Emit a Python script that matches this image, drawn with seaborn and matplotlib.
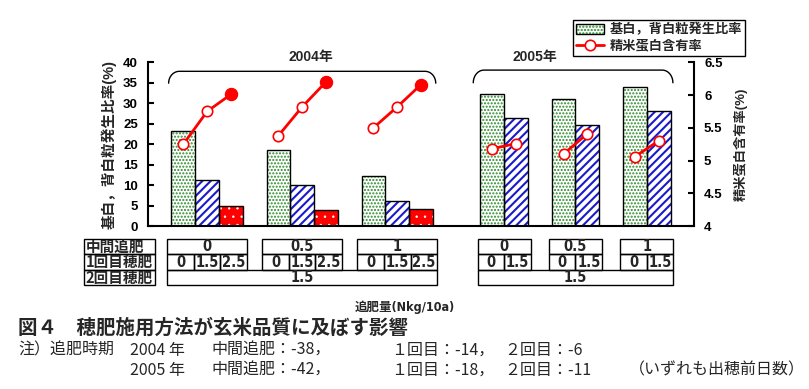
import numpy as np
import pandas as pd
import matplotlib
matplotlib.use("Agg")
import matplotlib.pyplot as plt
import matplotlib.transforms as mtransforms
from matplotlib.patches import Rectangle, Patch
from matplotlib.lines import Line2D
import seaborn as sns

# ---------------- data ----------------
years = ["2004年", "2005年"]
mid_levels = ["0", "0.5", "1"]
first_levels_2004 = ["0", "1.5", "2.5"]
first_levels_2005 = ["0", "1.5"]
second_level = "1.5"
chalky_2004 = [[23.2, 11.3, 5.0], [18.5, 9.9, 4.0], [12.3, 6.0, 4.2]]
chalky_2005 = [[32.2, 26.5], [31.0, 24.6], [33.9, 28.0]]
protein_2004 = [[5.25, 5.75, 6.01], [5.38, 5.82, 6.20], [5.50, 5.82, 6.16]]
protein_2005 = [[5.18, 5.26], [5.10, 5.41], [5.06, 5.30]]
row_labels = ["中間追肥", "1回目穂肥", "2回目穂肥"]
legend_labels = ["基白，背白粒発生比率", "精米蛋白含有率"]
left_ticks = [0, 5, 10, 15, 20, 25, 30, 35, 40]
right_ticks = [4, 4.5, 5, 5.5, 6, 6.5]
right_ticklabels = ["4", "4.5", "5", "5.5", "6", "6.5"]
caption = "図４　穂肥施用方法が玄米品質に及ぼす影響"
note_head = "注）追肥時期"
note_2004 = ["2004 年", "中間追肥：-38，", "１回目：-14，", "２回目：-6"]
note_2005 = ["2005 年", "中間追肥：-42，", "１回目：-18，", "２回目：-11", "（いずれも出穂前日数）"]

# ---------------- theme ----------------
sns.set_theme(style="white")
plt.rcParams["font.family"] = ["Liberation Sans", "Noto Sans CJK JP"]
plt.rcParams["hatch.linewidth"] = 1.1
plt.rcParams["axes.unicode_minus"] = False

# ---------------- build table ----------------
year_first = [first_levels_2004, first_levels_2005]
year_chalky = [chalky_2004, chalky_2005]
year_protein = [protein_2004, protein_2005]
year_start = [1, 14]
rows = []
group_spans = []
for yi, year in enumerate(years):
    firsts = year_first[yi]
    n = len(firsts)
    for g, mid in enumerate(mid_levels):
        gs = year_start[yi] + g * (n + 1)
        group_spans.append((yi, gs, n, mid))
        for k, f in enumerate(firsts):
            rows.append(dict(year=year, mid=mid, first=f, grp=f"{year}-{mid}",
                             pos=gs + k + 0.5, chalky=year_chalky[yi][g][k],
                             protein=year_protein[yi][g][k], kind=f"k{k}",
                             filled=(yi == 0 and k == 2)))
df = pd.DataFrame(rows)

fig = plt.figure(figsize=(8.09, 3.89), dpi=100)
ax = fig.add_axes([0.1826, 0.419, 0.6756, 0.4208])

hue_order = ["k0", "k1", "k2"]
sns.barplot(data=df, x="pos", y="chalky", hue="kind", hue_order=hue_order,
            native_scale=True, width=1, dodge=False, errorbar=None,
            legend=False, ax=ax, palette=["white", "white", "red"])

styles = {
    "k0": dict(fc="white", hc="#2a8a2a", hatch=".....", hlw=1.0),
    "k1": dict(fc="white", hc="#1a1acc", hatch="////", hlw=1.5),
    "k2": dict(fc="#ff0000", hc="white", hatch="..", hlw=0.5),
}
for cont, kind in zip(ax.containers, hue_order):
    st = styles[kind]
    for bar in cont:
        bar.set_facecolor(st["fc"])
        bar.set_edgecolor(st["hc"])
        bar.set_linewidth(0)
        bar.set_hatch(st["hatch"])
        if hasattr(bar, "set_hatch_linewidth"):
            bar.set_hatch_linewidth(st["hlw"])
        ax.add_patch(Rectangle(bar.get_xy(), bar.get_width(), bar.get_height(),
                               fill=False, ec="black", lw=1.0, zorder=bar.get_zorder() + 0.1))

ax.set_xlim(0, 23)
ax.set_ylim(0, 40)
ax.set_yticks(left_ticks)
ax.set_yticklabels([str(t) for t in left_ticks])
ax.set_xticks([])
ax.set_xlabel("")
ax.set_ylabel("基白，背白粒発生比率(%)", fontsize=10.5, fontweight="bold", labelpad=5)
for s in ["top", "right"]:
    ax.spines[s].set_visible(False)
for s in ["left", "bottom"]:
    ax.spines[s].set_color("black")
    ax.spines[s].set_linewidth(1.5)
ax.tick_params(axis="y", direction="in", length=4, width=1.5, pad=7, labelsize=9.5,
               colors="black", left=True)
for lb in ax.get_yticklabels():
    lb.set_fontweight("bold")

ax2 = ax.twinx()
sns.lineplot(data=df, x="pos", y="protein", units="grp", estimator=None, ax=ax2,
             color="red", linewidth=2, marker="o", markersize=7.5,
             markerfacecolor="white", markeredgecolor="red", markeredgewidth=1.2,
             legend=False, zorder=4)
sns.scatterplot(data=df[df["filled"]], x="pos", y="protein", ax=ax2, color="red",
                s=75, edgecolor="red", linewidth=1.0, zorder=5, legend=False)
ax2.set_ylim(4, 6.5)
ax2.set_xlim(0, 23)
ax2.set_yticks(right_ticks)
ax2.set_yticklabels(right_ticklabels)
ax2.set_xlabel("")
ax2.set_ylabel("精米蛋白含有率(%)", fontsize=9.5, fontweight="bold", labelpad=8)
for s in ["top", "left", "bottom"]:
    ax2.spines[s].set_visible(False)
ax2.spines["right"].set_color("black")
ax2.spines["right"].set_linewidth(1.5)
ax2.tick_params(axis="y", direction="in", length=4, width=1.5, pad=7, labelsize=9.5,
                colors="black", right=True)
for lb in ax2.get_yticklabels():
    lb.set_fontweight("bold")

# ---------------- year braces ----------------
def brace(x0, x1, ytop, ybot):
    dx = 0.45
    t = np.linspace(0, np.pi / 2, 20)
    left = np.column_stack([x0 + dx - dx * np.cos(t), ybot + (ytop - ybot) * np.sin(t)])
    right = np.column_stack([x1 - dx + dx * np.cos(t[::-1]), ybot + (ytop - ybot) * np.sin(t[::-1])])
    pts = np.vstack([left, right])
    ax.plot(pts[:, 0], pts[:, 1], color="black", lw=1.0, clip_on=False, zorder=6)

cell_w = 1.12
brace(0.88, 12.12, 37.8, 34.9)
brace(13.7, 22.1, 38.1, 35.0)
ax.text(6.86, 41.3, years[0], ha="center", va="center", fontsize=10, fontweight="bold", clip_on=False)
ax.text(16.3, 41.3, years[1], ha="center", va="center", fontsize=10, fontweight="bold", clip_on=False)

# ---------------- legend ----------------
h1 = (Patch(facecolor=styles["k0"]["fc"], edgecolor=styles["k0"]["hc"], hatch=styles["k0"]["hatch"], lw=0),
      Patch(facecolor="none", edgecolor="black", lw=1.0))
h2 = Line2D([], [], color="red", lw=2, marker="o", markersize=7.5,
            markerfacecolor="white", markeredgecolor="red", markeredgewidth=1.2)
leg = fig.legend([h1, h2], legend_labels, loc="upper left",
                 bbox_to_anchor=(573 / 809, 1 - 20 / 389), borderaxespad=0,
                 frameon=True, fancybox=False, framealpha=1, edgecolor="black",
                 prop=dict(weight="bold", size=9.5), handlelength=2.1,
                 handletextpad=0.4, borderpad=0.25, labelspacing=0.25)
leg.get_frame().set_linewidth(1.0)

# ---------------- table under the chart ----------------
tr = mtransforms.blended_transform_factory(ax.transData, ax.transAxes)
ybounds = [-0.0794, -0.174, -0.269, -0.360]
tfont = dict(fontsize=10.5, fontweight="bold", fontstretch="condensed",
             family=["DejaVu Sans", "Noto Sans CJK JP"])

def box(x0, x1, y0, y1):
    ax.add_patch(Rectangle((x0, y1), x1 - x0, y0 - y1, transform=tr, fill=False,
                           ec="black", lw=1.0, clip_on=False))

lx0, lx1 = -2.68, 0.31
for r in range(3):
    box(lx0, lx1, ybounds[r], ybounds[r + 1])
    ax.text(lx0 + 0.06, (ybounds[r] + ybounds[r + 1]) / 2, row_labels[r], transform=tr,
            ha="left", va="center", fontsize=10.5, fontweight="bold",
            family=["Noto Sans CJK JP"], clip_on=False)

year_extent = {0: [None, None], 1: [None, None]}
for yi, gs, n, mid in group_spans:
    firsts = year_first[yi]
    center = gs + n / 2
    gx0 = center - cell_w * n / 2
    gx1 = center + cell_w * n / 2
    box(gx0, gx1, ybounds[0], ybounds[1])
    ax.text(center, (ybounds[0] + ybounds[1]) / 2, mid, transform=tr, ha="center",
            va="center", clip_on=False, **tfont)
    for k, f in enumerate(firsts):
        cx0 = gx0 + k * cell_w
        box(cx0, cx0 + cell_w, ybounds[1], ybounds[2])
        ax.text(cx0 + cell_w / 2, (ybounds[1] + ybounds[2]) / 2, f, transform=tr,
                ha="center", va="center", clip_on=False, **tfont)
    e = year_extent[yi]
    e[0] = gx0 if e[0] is None else min(e[0], gx0)
    e[1] = gx1 if e[1] is None else max(e[1], gx1)

for yi in (0, 1):
    x0, x1 = year_extent[yi]
    box(x0, x1, ybounds[2], ybounds[3])
    ax.text((x0 + x1) / 2, (ybounds[2] + ybounds[3]) / 2, second_level, transform=tr,
            ha="center", va="center", clip_on=False, **tfont)

fig.text(405 / 809, 1 - 307 / 389, "追肥量(Nkg/10a)", ha="center", va="center",
         fontsize=9, fontweight="bold", family=["DejaVu Sans", "Noto Sans CJK JP"],
         fontstretch="condensed")

# ---------------- caption and notes ----------------
fig.text(18 / 809, 1 - 328 / 389, caption, ha="left", va="center", fontsize=14,
         fontweight="bold", family=["Noto Sans CJK JP"])
nfont = dict(ha="left", va="center", fontsize=11.5, family=["Noto Sans CJK JP"])
fig.text(18 / 809, 1 - 350 / 389, note_head, **nfont)
seg_x = [130, 211, 391, 504, 629]
for i, s in enumerate(note_2004):
    fig.text(seg_x[i] / 809, 1 - 350 / 389, s, **nfont)
for i, s in enumerate(note_2005):
    fig.text(seg_x[i] / 809, 1 - 370 / 389, s, **nfont)

fig.savefig("out.png", dpi=100)
